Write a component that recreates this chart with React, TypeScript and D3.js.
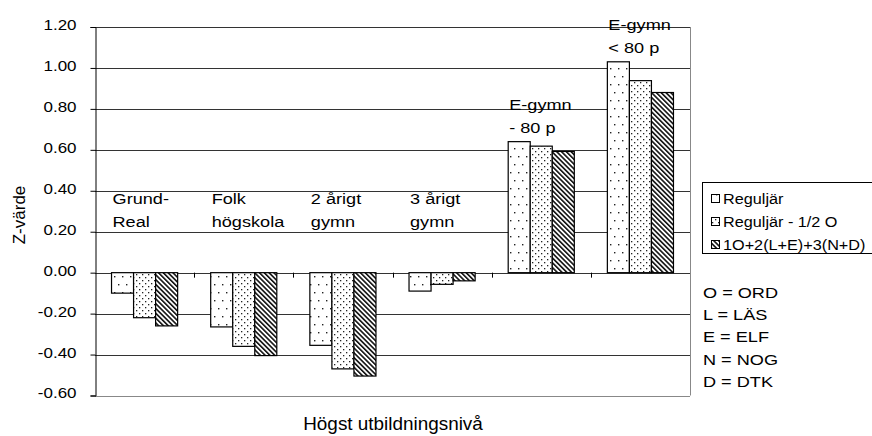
import React, { useEffect, useRef } from "react";
import * as d3 from "d3";

// categories (two text lines each, drawn inside the plot)
const categories = ["Grund-Real", "Folkhögskola", "2 årigt gymn", "3 årigt gymn", "E-gymn - 80 p", "E-gymn < 80 p"];
const categoryLines = [
    ["Grund-", "Real"],
    ["Folk", "högskola"],
    ["2 årigt", "gymn"],
    ["3 årigt", "gymn"],
    ["E-gymn", "- 80 p"],
    ["E-gymn", "< 80 p"]
];

const seriesNames = ["Reguljär", "Reguljär - 1/2 O", "1O+2(L+E)+3(N+D)"];
const regular = [-0.10, -0.265, -0.355, -0.09, 0.64, 1.03];
const regularHalfO = [-0.22, -0.36, -0.47, -0.057, 0.618, 0.938];
const weighted = [-0.26, -0.405, -0.505, -0.04, 0.592, 0.88];

const yTicks = [-0.6, -0.4, -0.2, 0, 0.2, 0.4, 0.6, 0.8, 1.0, 1.2];
const notes = ["O = ORD", "L = LÄS", "E = ELF", "N = NOG", "D = DTK"];

const W = 872;
const H = 436;
const font = "'Liberation Sans', Arial, sans-serif";
const stretch = 1.17; // the original text is a bit wide

// text with a horizontal stretch around its anchor point
const addText = (parent, x, y, str, size, k = stretch, anchor = "start") =>
    parent.append("text")
        .attr("transform", `translate(${x}, ${y}) scale(${k}, 1)`)
        .attr("text-anchor", anchor)
        .attr("font-family", font)
        .attr("font-size", size)
        .attr("fill", "#000")
        .text(str);

const App = () => {
    const ref = useRef<SVGSVGElement>(null);

    useEffect(() => {
        const svg = d3.select(ref.current);
        svg.selectAll("*").remove();

        const margin = { left: 95, right: 182, top: 27, bottom: 40.5 };
        const series = [regular, regularHalfO, weighted];

        const x = d3.scaleBand<string>()
            .domain(categories)
            .range([margin.left, W - margin.right])
            .padding(0);

        const xInner = d3.scaleBand<number>()
            .domain([0, 1, 2])
            .range([0, x.bandwidth()])
            .paddingInner(0)
            .paddingOuter(0.75);

        const y = d3.scaleLinear()
            .domain([-0.6, 1.2])
            .range([H - margin.bottom, margin.top]);

        // fill patterns
        const defs = svg.append("defs");
        const p1 = defs.append("pattern").attr("id", "p1")
            .attr("patternUnits", "userSpaceOnUse").attr("width", 8).attr("height", 16);
        p1.append("rect").attr("width", 8).attr("height", 16).attr("fill", "#fff");
        p1.append("rect").attr("x", 2).attr("y", 4).attr("width", 1.4).attr("height", 1.4).attr("fill", "#222");
        p1.append("rect").attr("x", 6).attr("y", 12).attr("width", 1.4).attr("height", 1.4).attr("fill", "#222");

        const p2 = defs.append("pattern").attr("id", "p2")
            .attr("patternUnits", "userSpaceOnUse").attr("width", 6).attr("height", 6);
        p2.append("rect").attr("width", 6).attr("height", 6).attr("fill", "#fff");
        p2.append("rect").attr("x", 1).attr("y", 1).attr("width", 1.3).attr("height", 1.3).attr("fill", "#222");
        p2.append("rect").attr("x", 4).attr("y", 4).attr("width", 1.3).attr("height", 1.3).attr("fill", "#222");

        const p3 = defs.append("pattern").attr("id", "p3")
            .attr("patternUnits", "userSpaceOnUse").attr("width", 3.4).attr("height", 10)
            .attr("patternTransform", "rotate(-45)");
        p3.append("rect").attr("width", 3.4).attr("height", 10).attr("fill", "#fff");
        p3.append("rect").attr("x", 0).attr("width", 1.6).attr("height", 10).attr("fill", "#111");

        const fills = ["url(#p1)", "url(#p2)", "url(#p3)"];

        // gridlines
        svg.append("g")
            .selectAll("line")
            .data(yTicks)
            .enter()
            .append("line")
            .attr("x1", margin.left)
            .attr("x2", W - margin.right)
            .attr("y1", d => Math.round(y(d)) + 0.5)
            .attr("y2", d => Math.round(y(d)) + 0.5)
            .attr("stroke", d => d === -0.6 ? "#888" : "#333")
            .attr("stroke-width", 1);

        // right border
        svg.append("line")
            .attr("x1", W - margin.right + 0.5).attr("x2", W - margin.right + 0.5)
            .attr("y1", y(1.2)).attr("y2", y(-0.6))
            .attr("stroke", "#888");

        // y axis (plain hyphen for minus, like the original)
        const yAxis = d3.axisLeft(y)
            .tickValues(yTicks)
            .tickFormat(d => (+d).toFixed(2))
            .tickSize(5)
            .tickPadding(14);

        const yg = svg.append("g")
            .attr("transform", `translate(${margin.left + 0.5}, 0)`)
            .call(yAxis);
        yg.select(".domain").attr("stroke", "#000");
        yg.selectAll(".tick line").attr("stroke", "#000");
        yg.selectAll(".tick text")
            .attr("x", -19 / stretch)
            .attr("dy", "0.17em")
            .attr("transform", `scale(${stretch}, 1)`)
            .attr("font-family", font)
            .attr("font-size", 14.5)
            .attr("fill", "#000");

        // category ticks on zero line
        svg.append("g")
            .selectAll("line")
            .data(categories.slice(1))
            .enter()
            .append("line")
            .attr("x1", d => Math.round(x(d)!) + 0.5)
            .attr("x2", d => Math.round(x(d)!) + 0.5)
            .attr("y1", y(0))
            .attr("y2", y(0) + 5)
            .attr("stroke", "#000");

        // bars
        series.forEach((vals, s) => {
            svg.append("g")
                .selectAll("rect")
                .data(vals)
                .enter()
                .append("rect")
                .attr("x", (d, i) => x(categories[i])! + xInner(s)!)
                .attr("y", d => y(Math.max(0, d)))
                .attr("width", xInner.bandwidth())
                .attr("height", d => Math.abs(y(d) - y(0)))
                .attr("fill", fills[s])
                .attr("stroke", "#000")
                .attr("stroke-width", 1.2);
        });

        // category labels inside the plot
        categoryLines.forEach((lines, i) => {
            const top = Math.max(regular[i], regularHalfO[i], weighted[i]);
            const base = top > 0 ? y(top) - 32 : y(0.335);
            lines.forEach((ln, k) => {
                addText(svg, x(categories[i])! + xInner(0)! + 1, base + k * 23, ln, 15.5);
            });
        });

        // axis titles
        svg.append("text")
            .attr("transform", `translate(25, 215) rotate(-90)`)
            .attr("text-anchor", "middle")
            .attr("font-family", font)
            .attr("font-size", 17)
            .text("Z-värde");

        addText(svg, 393, 430, "Högst utbildningsnivå", 17.5, 1.08, "middle");

        // legend (box runs off the right edge, as in the original)
        const lg = svg.append("g").attr("transform", "translate(702, 182)");
        lg.append("rect")
            .attr("x", 0.5).attr("y", 0.5)
            .attr("width", 200).attr("height", 71)
            .attr("fill", "#fff")
            .attr("stroke", "#000");
        seriesNames.forEach((name, s) => {
            const cy = 17 + s * 23;
            lg.append("rect")
                .attr("x", 9.5).attr("y", cy - 4.5)
                .attr("width", 8).attr("height", 8)
                .attr("fill", fills[s])
                .attr("stroke", "#000");
            addText(lg, 21, cy + 5, name, 14.5, 1.12);
        });

        // abbreviation notes
        notes.forEach((d, i) => {
            addText(svg, 703, 297.5 + i * 22.4, d, 15.5);
        });
    }, []);

    return (
        <svg ref={ref} width={W} height={H}
            style={{ position: "absolute", left: 0, top: 0, background: "#fff" }}></svg>
    );
};

export default App;
